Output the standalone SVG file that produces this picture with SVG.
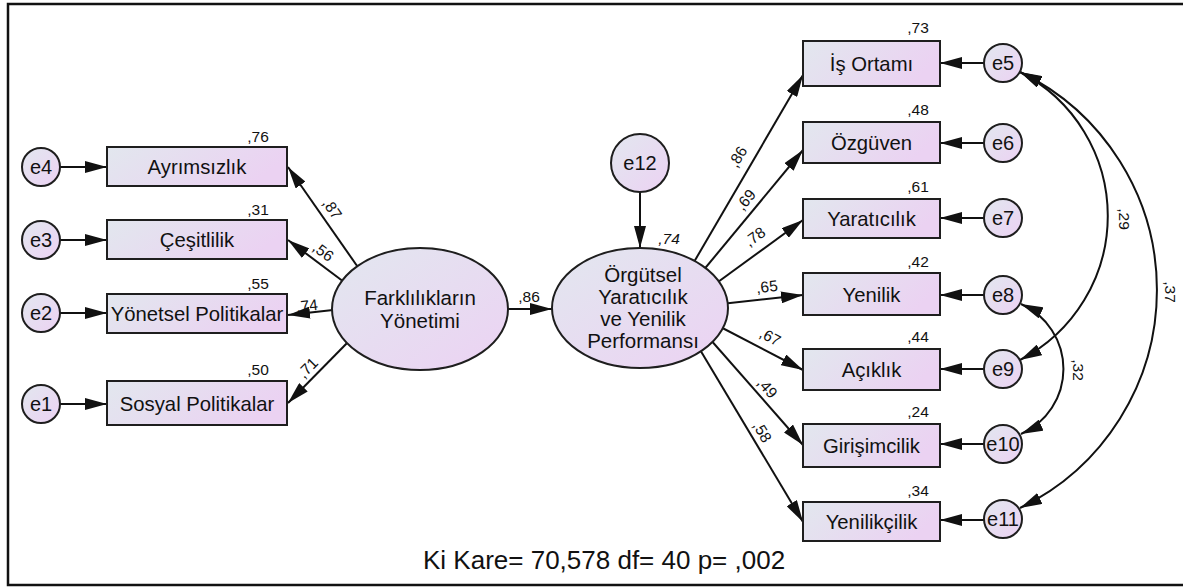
<svg xmlns="http://www.w3.org/2000/svg" width="1183" height="587" viewBox="0 0 1183 587">
<style>
text{font-family:"Liberation Sans",Arial,sans-serif;fill:#111;}
.lbl{font-size:20.3px;text-anchor:middle;}
.lat{font-size:20.5px;text-anchor:middle;}
.err{font-size:20px;text-anchor:middle;}
.num{font-size:15.5px;text-anchor:middle;}
.box{fill:url(#gb);stroke:#1e1e1e;stroke-width:2;}
.ell{fill:url(#ge);stroke:#1e1e1e;stroke-width:2;}
.cir{fill:url(#ge);stroke:#1e1e1e;stroke-width:2;}
.ln{fill:none;stroke:#111;stroke-width:2;marker-end:url(#ah);}
.cov{fill:none;stroke:#111;stroke-width:2;marker-start:url(#ah);marker-end:url(#ah);}
</style>
<defs>
<linearGradient id="gb" x1="0" y1="0" x2="1" y2="0.3">
<stop offset="0" stop-color="#e2e7ee"/>
<stop offset="1" stop-color="#ebd2f2"/>
</linearGradient>
<linearGradient id="ge" x1="0" y1="0" x2="1" y2="1">
<stop offset="0" stop-color="#e2e7ef"/>
<stop offset="1" stop-color="#ecd2f3"/>
</linearGradient>
<marker id="ah" viewBox="0 0 22 12" refX="22" refY="6" markerWidth="22" markerHeight="12" markerUnits="userSpaceOnUse" orient="auto-start-reverse">
<path d="M0,0 L22,6 L0,12 z" fill="#111"/>
</marker>
</defs>
<rect x="8" y="4" width="1180" height="581" fill="#fff" stroke="#111" stroke-width="2.5"/>

<g id="connectors">
<line class="ln" x1="60" y1="167" x2="107" y2="167"/>
<line class="ln" x1="60" y1="240" x2="107" y2="240"/>
<line class="ln" x1="60" y1="313" x2="107" y2="313"/>
<line class="ln" x1="60" y1="404" x2="107" y2="404"/>
<line class="ln" x1="362" y1="273" x2="288" y2="167"/>
<line class="ln" x1="348" y1="285" x2="288" y2="240"/>
<line class="ln" x1="342" y1="309" x2="288" y2="315"/>
<line class="ln" x1="352" y1="338" x2="288" y2="403"/>
<line class="ln" x1="500" y1="309" x2="552" y2="309"/>
<line class="ln" x1="640" y1="192" x2="640" y2="248"/>
<line class="ln" x1="687" y1="274" x2="803" y2="75"/>
<line class="ln" x1="697" y1="278" x2="803" y2="150"/>
<line class="ln" x1="707" y1="290" x2="803" y2="220"/>
<line class="ln" x1="712" y1="305" x2="803" y2="295"/>
<line class="ln" x1="709" y1="321" x2="803" y2="370"/>
<line class="ln" x1="702" y1="330" x2="803" y2="445"/>
<line class="ln" x1="693" y1="338" x2="803" y2="522"/>
<line class="ln" x1="984" y1="63" x2="940" y2="63"/>
<line class="ln" x1="984" y1="143" x2="940" y2="143"/>
<line class="ln" x1="984" y1="218" x2="940" y2="218"/>
<line class="ln" x1="984" y1="295" x2="940" y2="295"/>
<line class="ln" x1="984" y1="369" x2="940" y2="369"/>
<line class="ln" x1="984" y1="444" x2="940" y2="444"/>
<line class="ln" x1="984" y1="520" x2="940" y2="520"/>
<path class="cov" d="M1020,72 A162,162 0 0 1 1020,360"/>
<path class="cov" d="M1020,72 A242,242 0 0 1 1020,508"/>
<path class="cov" d="M1021,304 A71,71 0 0 1 1021,434"/>
<text class="num" transform="translate(332,209) rotate(55.2)" y="5">,87</text>
<text class="num" transform="translate(323,252) rotate(37)" y="5">,56</text>
<text class="num" transform="translate(307,306) rotate(-6.5)" y="5">,74</text>
<text class="num" transform="translate(308,368) rotate(-45.5)" y="5">,71</text>
<text class="num" x="529" y="302">,86</text>
<text class="num" x="669" y="244" font-style="italic">,74</text>
<text class="num" transform="translate(738,157) rotate(-59.8)" y="5">,86</text>
<text class="num" transform="translate(746,200) rotate(-50.5)" y="5">,69</text>
<text class="num" transform="translate(755,237) rotate(-35.9)" y="5">,78</text>
<text class="num" transform="translate(767,287) rotate(-6.4)" y="5">,65</text>
<text class="num" transform="translate(770,337) rotate(27.8)" y="5">,67</text>
<text class="num" transform="translate(767,388) rotate(48.7)" y="5">,49</text>
<text class="num" transform="translate(762,432) rotate(59.1)" y="5">,58</text>
<text class="num" transform="translate(1124,219) rotate(90)" y="5">,29</text>
<text class="num" transform="translate(1170,292) rotate(90)" y="5">,37</text>
<text class="num" transform="translate(1078,370) rotate(90)" y="5">,32</text>
</g>

<g id="e4"><circle class="cir" cx="41" cy="167" r="19"/><text class="err" x="41" y="174">e4</text></g>
<g id="e3"><circle class="cir" cx="41" cy="240" r="19"/><text class="err" x="41" y="247">e3</text></g>
<g id="e2"><circle class="cir" cx="41" cy="313" r="19"/><text class="err" x="41" y="320">e2</text></g>
<g id="e1"><circle class="cir" cx="41" cy="404" r="19"/><text class="err" x="41" y="411">e1</text></g>

<g id="ayrimsizlik"><rect class="box" x="107" y="147" width="180" height="39"/><text class="lbl" x="197" y="174">Ayrımsızlık</text><text class="num" x="258" y="142">,76</text></g>
<g id="cesitlilik"><rect class="box" x="107" y="220" width="180" height="39"/><text class="lbl" x="197" y="247">Çeşitlilik</text><text class="num" x="258" y="215">,31</text></g>
<g id="yonetsel"><rect class="box" x="107" y="294" width="180" height="39"/><text class="lbl" x="197" y="321">Yönetsel Politikalar</text><text class="num" x="258" y="289">,55</text></g>
<g id="sosyal"><rect class="box" x="107" y="381" width="180" height="44"/><text class="lbl" x="197" y="410.5">Sosyal Politikalar</text><text class="num" x="258" y="375">,50</text></g>

<g id="farkliliklar"><ellipse class="ell" cx="420" cy="309" rx="88" ry="61"/><text class="lat" x="420" y="305">Farklılıkların</text><text class="lat" x="420" y="328">Yönetimi</text></g>
<g id="e12"><circle class="cir" cx="640" cy="163" r="29"/><text class="err" x="640" y="170">e12</text></g>
<g id="orgutsel"><ellipse class="ell" cx="640" cy="308" rx="88" ry="60"/><text class="lat" x="643" y="282">Örgütsel</text><text class="lat" x="643" y="304">Yaratıcılık</text><text class="lat" x="643" y="326">ve Yenilik</text><text class="lat" x="643" y="348">Performansı</text></g>

<g id="isortami"><rect class="box" x="803" y="41" width="137" height="45"/><text class="lbl" x="871.5" y="71">İş Ortamı</text><text class="num" x="918" y="33">,73</text></g>
<g id="ozguven"><rect class="box" x="803" y="122" width="137" height="41"/><text class="lbl" x="871.5" y="150">Özgüven</text><text class="num" x="918" y="115">,48</text></g>
<g id="yaraticilik"><rect class="box" x="803" y="199" width="137" height="39"/><text class="lbl" x="871.5" y="226">Yaratıcılık</text><text class="num" x="918" y="192">,61</text></g>
<g id="yenilik"><rect class="box" x="803" y="273" width="137" height="42"/><text class="lbl" x="871.5" y="301.5">Yenilik</text><text class="num" x="918" y="267">,42</text></g>
<g id="aciklik"><rect class="box" x="803" y="349" width="137" height="41"/><text class="lbl" x="871.5" y="377">Açıklık</text><text class="num" x="918" y="342">,44</text></g>
<g id="girisimcilik"><rect class="box" x="803" y="424" width="137" height="43"/><text class="lbl" x="871.5" y="453">Girişimcilik</text><text class="num" x="918" y="417">,24</text></g>
<g id="yenilikcilik"><rect class="box" x="803" y="502" width="137" height="39"/><text class="lbl" x="871.5" y="529">Yenilikçilik</text><text class="num" x="918" y="496">,34</text></g>

<g id="e5"><circle class="cir" cx="1003" cy="63" r="19"/><text class="err" x="1003" y="70">e5</text></g>
<g id="e6"><circle class="cir" cx="1003" cy="143" r="19"/><text class="err" x="1003" y="150">e6</text></g>
<g id="e7"><circle class="cir" cx="1003" cy="218" r="19"/><text class="err" x="1003" y="225">e7</text></g>
<g id="e8"><circle class="cir" cx="1003" cy="295" r="19"/><text class="err" x="1003" y="302">e8</text></g>
<g id="e9"><circle class="cir" cx="1003" cy="369" r="19"/><text class="err" x="1003" y="376">e9</text></g>
<g id="e10"><circle class="cir" cx="1003" cy="444" r="19"/><text class="err" x="1003" y="451">e10</text></g>
<g id="e11"><circle class="cir" cx="1003" cy="519" r="19"/><text class="err" x="1003" y="526">e11</text></g>

<text x="423" y="569" font-size="26">Ki Kare= 70,578 df= 40 p= ,002</text>
</svg>
